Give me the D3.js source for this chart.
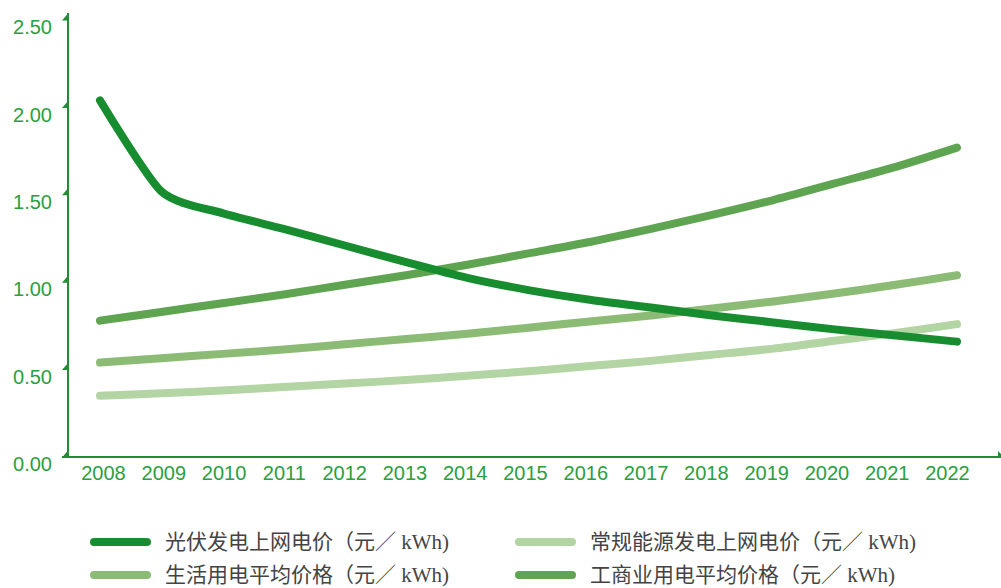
<!DOCTYPE html>
<html>
<head>
<meta charset="utf-8">
<style>
  body { margin: 0; background: #fff; }
  .tick text { font-family: "Liberation Sans", Arial, sans-serif; font-size: 20px; fill: #2aa03d; }
  .legend text { font-family: "Liberation Serif", "Noto Sans CJK SC", serif; font-size: 21px; fill: #444; }
</style>
</head>
<body>
<svg width="1001" height="588"></svg>
<script src="https://d3js.org/d3.v7.min.js"></script>
<script>

var years = [2008, 2009, 2010, 2011, 2012, 2013, 2014, 2015, 2016, 2017, 2018, 2019, 2020, 2021, 2022];
var yTicks = [0, 0.5, 1, 1.5, 2, 2.5];

// 光伏发电上网电价
var pv = [2.04, 1.52, 1.395, 1.305, 1.21, 1.115, 1.025, 0.955, 0.90, 0.855, 0.81, 0.77, 0.73, 0.695, 0.66];
// 常规能源发电上网电价
var conventional = [0.35, 0.365, 0.38, 0.40, 0.42, 0.44, 0.465, 0.49, 0.52, 0.55, 0.585, 0.62, 0.665, 0.71, 0.76];
// 生活用电平均价格
var residential = [0.54, 0.565, 0.59, 0.615, 0.645, 0.675, 0.705, 0.74, 0.775, 0.81, 0.85, 0.89, 0.935, 0.985, 1.04];
// 工商业用电平均价格
var commercial = [0.78, 0.83, 0.88, 0.93, 0.985, 1.04, 1.10, 1.165, 1.23, 1.305, 1.385, 1.47, 1.565, 1.66, 1.77];

var seriesNames = ["光伏发电上网电价（元／ kWh)", "常规能源发电上网电价（元／ kWh)",
                   "生活用电平均价格（元／ kWh)", "工商业用电平均价格（元／ kWh)"];
var seriesColors = ["#178d2f", "#b3d4a3", "#8bbb74", "#5fa551"];

var axisColor = "#1f8f32";

var svg = d3.select("svg");

var x = d3.scalePoint().domain(years).range([100, 957]);      // line positions
var xLab = d3.scalePoint().domain(years).range([103, 947]);   // label positions
var y = d3.scaleLinear().domain([0, 2.5]).range([457, 20]);

var series = [pv, conventional, residential, commercial];

var line = d3.line()
    .curve(d3.curveCardinal.tension(0.3))
    .x(function(d, i) { return x(years[i]); })
    .y(function(d) { return y(d); });

// draw lines (light ones first)
[1, 2, 3, 0].forEach(function(k) {
  svg.append("path")
      .attr("d", line(series[k]))
      .attr("fill", "none")
      .attr("stroke", seriesColors[k])
      .attr("stroke-width", 8)
      .attr("stroke-linecap", "round")
      .attr("stroke-linejoin", "round");
});

// y axis
var gy = svg.append("g")
    .attr("transform", "translate(68,0)")
    .call(d3.axisLeft(y).tickValues(yTicks).tickFormat(d3.format(".2f")).tickSize(0).tickPadding(16));
gy.select(".domain").remove();
gy.selectAll(".tick text").attr("dy", "0.68em");
gy.selectAll(".tick").append("path")
    .attr("d", "M0,0L-6,0L0,-7Z")
    .attr("fill", axisColor);
gy.append("line")
    .attr("x1", 0).attr("x2", 0)
    .attr("y1", 13).attr("y2", 458)
    .attr("stroke", axisColor).attr("stroke-width", 2);

// x axis
var gx = svg.append("g")
    .attr("transform", "translate(0,457)")
    .call(d3.axisBottom(xLab).tickSize(0).tickPadding(9));
gx.select(".domain").remove();
gx.append("line")
    .attr("x1", 62).attr("x2", 998)
    .attr("y1", 0).attr("y2", 0)
    .attr("stroke", axisColor).attr("stroke-width", 2);
gx.append("path")
    .attr("d", "M998,1L998,-6L1001,-3L1001,1Z")
    .attr("fill", axisColor);

// legend
var legendPos = [[90, 542], [515, 542], [90, 575], [515, 575]];
var lg = svg.append("g").attr("class", "legend");
seriesNames.forEach(function(name, k) {
  var p = legendPos[k];
  lg.append("line")
      .attr("x1", p[0] + 4).attr("x2", p[0] + 57)
      .attr("y1", p[1]).attr("y2", p[1])
      .attr("stroke", seriesColors[k])
      .attr("stroke-width", 8)
      .attr("stroke-linecap", "round");
  lg.append("text")
      .attr("x", p[0] + 75)
      .attr("y", p[1])
      .attr("dy", "0.33em")
      .text(name);
});

</script>
</body>
</html>
